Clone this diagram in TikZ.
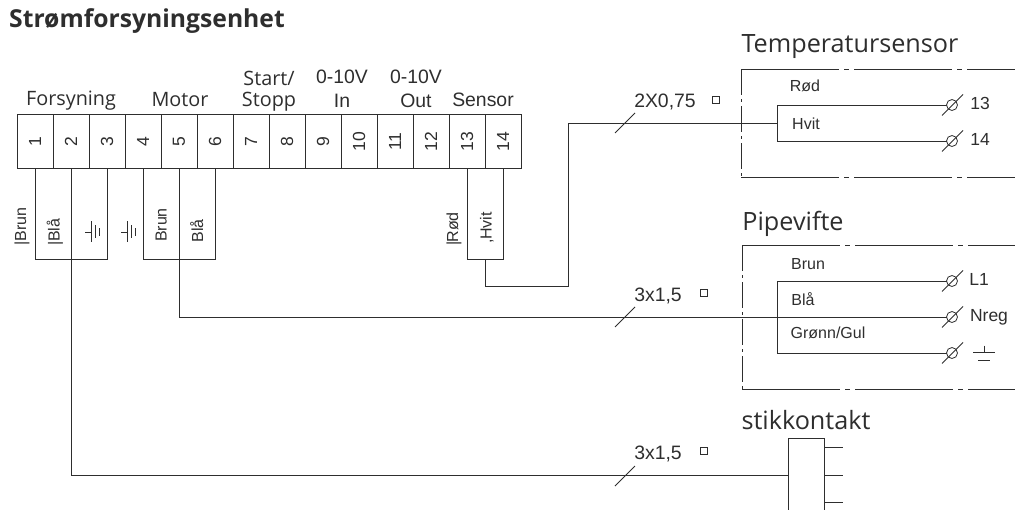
\documentclass[tikz,border=0pt]{standalone}
\usepackage{fontspec}
\setmainfont{Liberation Sans}
\newfontfamily\headfont{Open Sans}
\usepackage{tikz}

\definecolor{ink}{HTML}{2E2E2E}

\begin{document}
\begin{tikzpicture}[x=1pt,y=-1pt,line width=1pt,draw=ink,text=ink]
	\tikzstyle{every node}=[inner sep=0pt,outer sep=0pt]
	\tikzstyle{terminal}=[draw,minimum width=36pt,minimum height=54pt,font=\fontsize{17.5}{20}\selectfont]
	\tikzstyle{heading}=[anchor=base,font=\headfont\fontsize{25.2}{29}\selectfont]
	\tikzstyle{group}=[anchor=base,font=\headfont\fontsize{19.8}{23}\selectfont]
	\tikzstyle{gauge}=[anchor=base,font=\fontsize{19.4}{22}\selectfont]
	\tikzstyle{colour}=[anchor=base,font=\fontsize{16}{18}\selectfont]
	\tikzstyle{pin}=[anchor=base,font=\fontsize{17.5}{20}\selectfont]
	\tikzstyle{marker}=[draw,line width=0.8pt,minimum size=6.5pt]
	\tikzstyle{screw}=[draw,line width=0.8pt,circle,minimum size=11pt]
	\tikzstyle{tick}=[line width=0.8pt]
	\tikzstyle{longdash}=[dash pattern=on 98pt off 5pt on 5pt off 5pt]
	\tikzstyle{shortdash}=[dash pattern=on 26pt off 4pt on 3pt off 4pt]

	\useasboundingbox (0,0) rectangle (1015,509);

	\node[heading,font=\headfont\bfseries\fontsize{24.7}{28}\selectfont] (title) at (147,27) {Strømforsyningsenhet};
	\node[group] (forsyning) at (71,105) {Forsyning};
	\node[group] (motor) at (180,106) {Motor};
	\node[group] (start) at (269,85) {Start/};
	\node[group] (stopp) at (269,106) {Stopp};
	\node[gauge] (inA) at (342,83) {0-10V};
	\node[gauge] (inB) at (342,107.5) {In};
	\node[gauge] (outA) at (416,83) {0-10V};
	\node[gauge] (outB) at (416,107.5) {Out};
	\node[gauge] (sensor) at (483,106) {Sensor};

	\foreach \i in {1,...,14}
		\node[terminal] (t\i) at ({17+36*(\i-0.5)},141.5) {\rotatebox{90}{\i}};

	\coordinate (b1) at (35,259);
	\coordinate (b2) at (71,259);
	\coordinate (b3) at (107,259);
	\coordinate (b4) at (143,259);
	\coordinate (b5) at (179,259);
	\coordinate (b6) at (215,259);
	\coordinate (b13) at (467,259);
	\coordinate (b14) at (503,259);
	\coordinate (b15) at (485,259);
	\coordinate (s1) at (485,286);
	\coordinate (s2) at (568,286);
	\coordinate (s3) at (568,123);
	\coordinate (f1) at (179,317);
	\coordinate (m1) at (71,475.5);

	\draw (t1.south) -- (b1) -- (b3) -- (t3.south);
	\draw (t4.south) -- (b4) -- (b6) -- (t6.south);
	\draw (t13.south) -- (b13) -- (b14) -- (t14.south);
	\path[draw]
		(t2.south) edge (b2)
		(t5.south) edge (b5);

	\node[colour,rotate=90] (brunA) at (26,226.5) {|\kern-0.7pt Brun};
	\node[colour,rotate=90] (blaA) at (59.5,232) {|\kern-0.7pt Blå};
	\node[colour,rotate=90] (brunB) at (166.5,225) {Brun};
	\node[colour,rotate=90] (blaB) at (203,231) {Blå};
	\node[colour,rotate=90] (rodA) at (458,229) {|\kern-0.7pt Rød};
	\node[colour,rotate=90] (hvitA) at (491.5,228) {,\kern-0.7pt Hvit};

	\foreach \gx in {85,121} {
		\draw[tick] (\gx,232) -- (\gx+6.3,232);
		\draw[tick] (\gx+6.3,221) -- (\gx+6.3,242);
		\draw[tick] (\gx+10.5,225) -- (\gx+10.5,238);
		\draw[tick] (\gx+14,228) -- (\gx+14,236);
	}

	\node[heading] (temp) at (850,52) {Temperatursensor};
	\draw[longdash] (741,69) -- (1015,69);
	\draw[longdash] (741,177.5) -- (1015,177.5);
	\draw[shortdash] (741,69) -- (741,177.5);
	\node[gauge] (gaugeA) at (665,107) {2X0,75};
	\node[marker] (squareA) at (716,100) {};
	\node[colour] (rod) at (805,91) {Rød};
	\node[colour] (hvit) at (806,129) {Hvit};
	\node[screw] (c13) at (952,105) {};
	\node[screw] (c14) at (952,141) {};
	\node[pin] (p13) at (980,109) {13};
	\node[pin] (p14) at (980,145) {14};
	\coordinate (h1) at (777,105);
	\coordinate (h2) at (777,123);
	\coordinate (h3) at (777,141);
	\draw (c13) -- (h1) -- (h3) -- (c14);
	\draw (b15) -- (s1) -- (s2) -- (s3) -- (h2);

	\node[heading] (fan) at (793,230) {Pipevifte};
	\draw[longdash] (742,245) -- (1015,245);
	\draw[longdash] (742,389) -- (1015,389);
	\draw[shortdash] (742,245) -- (742,389);
	\node[gauge] (gaugeB) at (658,301) {3x1,5};
	\node[marker] (squareB) at (704,293) {};
	\node[colour] (brun) at (808,269) {Brun};
	\node[colour] (bla) at (803,305) {Blå};
	\node[colour] (gul) at (828,338) {Grønn/Gul};
	\node[screw] (cL) at (952,281) {};
	\node[screw] (cN) at (952,317) {};
	\node[screw] (cE) at (952,353) {};
	\node[pin] (pL) at (979,285) {L1};
	\node[pin] (pN) at (989,321) {Nreg};
	\coordinate (h4) at (777,281);
	\coordinate (h5) at (777,353);
	\draw (cL) -- (h4) -- (h5) -- (cE);
	\draw (b5) -- (f1) -- (cN);
	\draw[tick] (973,352) -- (995,352);
	\draw[tick] (984,345.5) -- (984,352);
	\draw[tick] (978,360) -- (990,360);

	\node[heading] (socket) at (806,429) {stikkontakt};
	\node[draw,minimum width=36pt,minimum height=75pt] (box) at (806,475.5) {};
	\node[gauge] (gaugeC) at (658,459.5) {3x1,5};
	\node[marker] (squareC) at (704,451) {};
	\draw (b2) -- (m1) -- (box.west);
	\coordinate (e1) at (843,447);
	\coordinate (e2) at (843,475);
	\coordinate (e3) at (843,502);
	\path[draw]
		(box.east |- e1) edge (e1)
		(box.east |- e2) edge (e2)
		(box.east |- e3) edge (e3);

	\foreach \sx/\sy in {615/133,615/327,615/486}
		\draw[tick] (\sx,\sy) -- (\sx+20,\sy-20);
	\foreach \term in {c13,c14,cL,cN,cE}
		\draw[tick] (\term) ++(-10,10.5) -- ++(21,-21);
\end{tikzpicture}
\end{document}
